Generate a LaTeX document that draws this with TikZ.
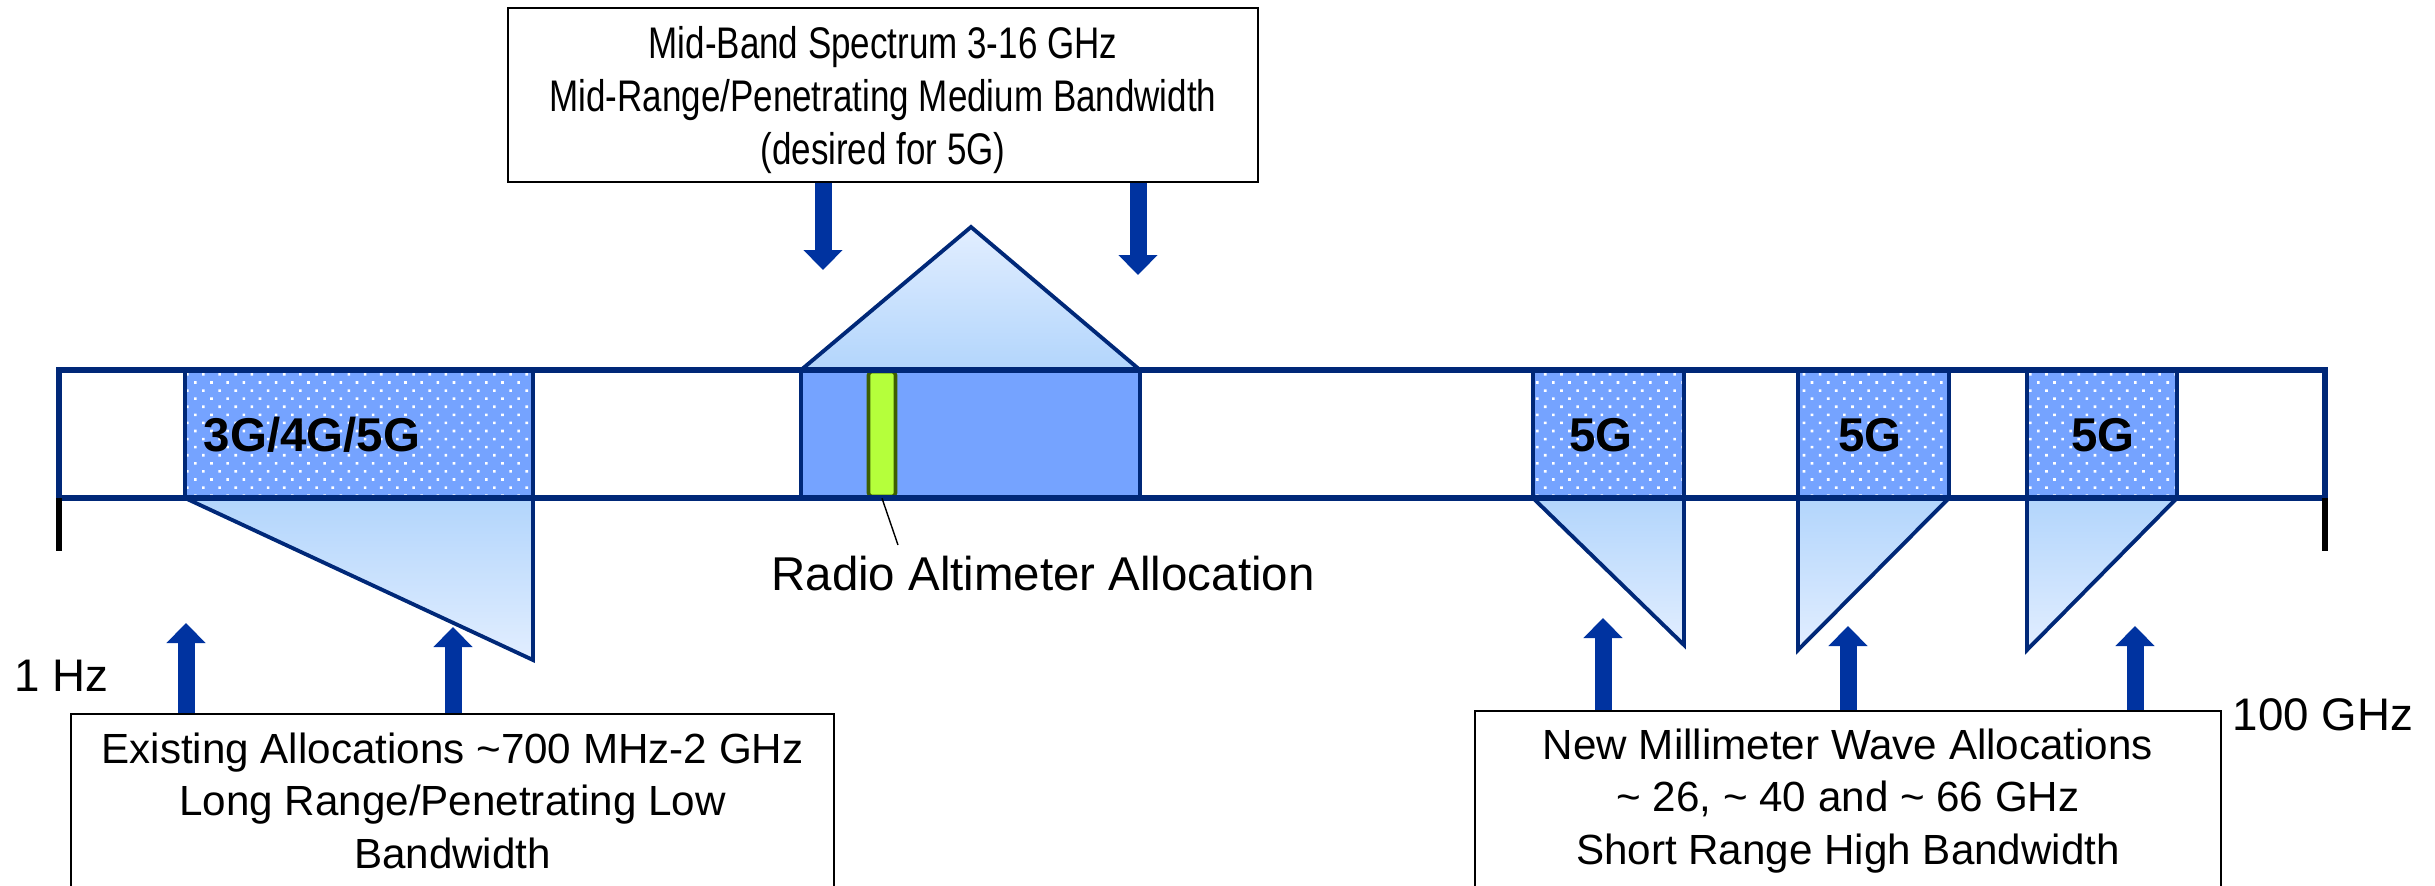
\documentclass[tikz,border=0pt]{standalone}
\usepackage{fontspec}
\setmainfont{Liberation Sans}
\newfontfamily\condfont{Liberation Sans}[FakeStretch=0.79]
\usetikzlibrary{arrows.meta,patterns}
\pgfdeclarepatternformonly{sdots}{\pgfqpoint{-0.5pt}{-0.5pt}}{\pgfqpoint{5pt}{5pt}}{\pgfqpoint{4.6pt}{4.6pt}}{%
  \pgfpathrectangle{\pgfqpoint{0pt}{0pt}}{\pgfqpoint{0.75pt}{0.75pt}}%
  \pgfpathrectangle{\pgfqpoint{2.3pt}{2.3pt}}{\pgfqpoint{0.75pt}{0.75pt}}%
  \pgfusepath{fill}}
\definecolor{navy}{RGB}{0,40,120}
\definecolor{bandblue}{RGB}{117,163,255}
\definecolor{trilight}{RGB}{226,238,255}
\definecolor{tridark}{RGB}{178,213,252}
\definecolor{arrowblue}{RGB}{0,51,160}
\definecolor{altgreen}{RGB}{181,255,59}
\definecolor{altedge}{RGB}{61,94,0}
\tikzset{
  dotbox/.style={fill=bandblue, postaction={pattern=sdots, pattern color=white}, postaction={draw=navy, line width=1.1pt}},
  midbox/.style={fill=bandblue, draw=navy, line width=1.1pt},
  tridown/.style={draw=navy, line width=1.1pt, top color=tridark, bottom color=trilight},
  triup/.style={draw=navy, line width=1.1pt, top color=trilight, bottom color=tridark},
  bandline/.style={draw=navy, line width=1.5pt},
  tickline/.style={draw=black, line width=1.6pt},
  barrow/.style={draw=arrowblue, line width=0.17cm, -{Triangle[length=0.2cm, width=0.38cm]}},
  txtbox/.style={draw=black, line width=0.5pt, fill=white, align=center, inner sep=0pt},
  boldlbl/.style={font=\bfseries\fontsize{13.5}{16}\selectfont, inner sep=0pt},
  plainlbl/.style={font=\fontsize{13}{16}\selectfont, inner sep=0pt},
}
\begin{document}
\begin{tikzpicture}
\useasboundingbox (0,0) rectangle (24.35,8.85);
\clip (0,0) rectangle (24.35,8.85);
% coloured bands
\path[dotbox] (1.85,3.87) rectangle (5.33,5.15);
\path[dotbox] (15.33,3.87) rectangle (16.84,5.15);
\path[dotbox] (17.98,3.87) rectangle (19.49,5.15);
\path[dotbox] (20.27,3.87) rectangle (21.77,5.15);
\path[midbox] (8.01,3.87) rectangle (11.40,5.15);
% triangles
\path[tridown] (1.85,3.87) -- (5.33,3.87) -- (5.33,2.25) -- cycle;
\path[triup] (8.01,5.15) -- (9.71,6.58) -- (11.40,5.15) -- cycle;
\path[tridown] (15.33,3.87) -- (16.84,3.87) -- (16.84,2.40) -- cycle;
\path[tridown] (17.98,3.87) -- (19.49,3.87) -- (17.98,2.35) -- cycle;
\path[tridown] (20.27,3.87) -- (21.77,3.87) -- (20.27,2.35) -- cycle;
% radio altimeter bar
\node[draw=altedge, fill=altgreen, line width=1pt, minimum width=0.27cm, minimum height=1.25cm, inner sep=0pt, rounded corners=1pt] (ra) at (8.82,4.51) {};
% band outline and end ticks
\path[bandline] (0.59,3.87) rectangle (23.25,5.15);
\path[tickline] (0.59,3.87) -- (0.59,3.34);
\path[tickline] (23.25,3.87) -- (23.25,3.34);
% labels
\node[boldlbl] (l3g) at (3.12,4.50) {3G/4G/5G};
\node[boldlbl] (l5a) at (16.01,4.50) {5G};
\node[boldlbl] (l5b) at (18.70,4.50) {5G};
\node[boldlbl] (l5c) at (21.03,4.50) {5G};
\node[font=\fontsize{13.5}{16}\selectfont, inner sep=0pt] (radio) at (10.43,3.11) {Radio Altimeter Allocation};
\coordinate (leadend) at (8.98,3.40);
\draw[black, line width=0.4pt] (ra.south) -- (leadend);
\node[plainlbl, anchor=west] (hz1) at (0.14,2.09) {1 Hz};
\node[plainlbl, anchor=west] (hz100) at (22.32,1.70) {100 GHz};
% text boxes
\node[txtbox, minimum width=7.50cm, minimum height=1.74cm] (mid) at (8.83,7.90) {};
\node[align=center, inner sep=0pt, font=\condfont\fontsize{12.6}{15}\selectfont] (midtxt) at (8.83,7.85)
  {Mid-Band Spectrum 3-16 GHz\\Mid-Range/Penetrating Medium Bandwidth\\(desired for 5G)};
\node[txtbox, anchor=north, minimum width=7.63cm, minimum height=1.74cm, font=\fontsize{12}{15}\selectfont] (exist) at (4.525,1.72)
  {Existing Allocations \textasciitilde700 MHz-2 GHz\\Long Range/Penetrating Low\\Bandwidth};
\node[txtbox, anchor=north, minimum width=7.46cm, minimum height=1.80cm, font=\fontsize{12}{15}\selectfont] (mmw) at (18.48,1.75)
  {New Millimeter Wave Allocations\\\textasciitilde{} 26, \textasciitilde{} 40 and \textasciitilde{} 66 GHz\\Short Range High Bandwidth};
% arrow tips
\coordinate (tA) at (1.86,2.62);
\coordinate (tB) at (4.53,2.58);
\coordinate (tC) at (8.23,6.15);
\coordinate (tD) at (11.38,6.10);
\coordinate (tE) at (16.03,2.67);
\coordinate (tF) at (18.48,2.59);
\coordinate (tG) at (21.35,2.59);
\draw[barrow] (exist.north -| tA) -- (tA);
\draw[barrow] (exist.north -| tB) -- (tB);
\draw[barrow] (mid.south -| tC) -- (tC);
\draw[barrow] (mid.south -| tD) -- (tD);
\draw[barrow] (mmw.north -| tE) -- (tE);
\draw[barrow] (mmw.north -| tF) -- (tF);
\draw[barrow] (mmw.north -| tG) -- (tG);
\end{tikzpicture}
\end{document}
